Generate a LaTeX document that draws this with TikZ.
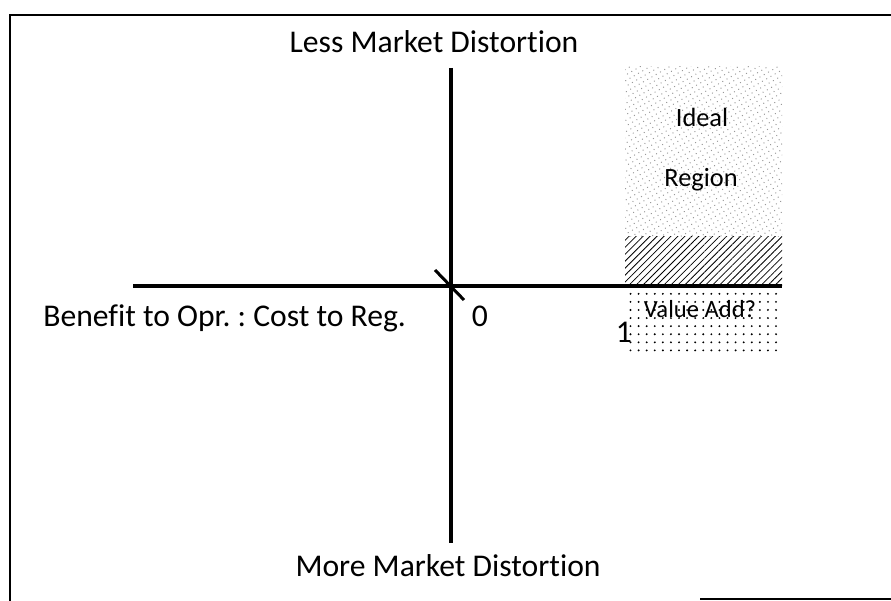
\documentclass[tikz,border=0pt]{standalone}
\usepackage{fontspec}
\setmainfont[Ligatures=NoCommon]{Carlito}
\usetikzlibrary{patterns.meta}
\frenchspacing

\begin{document}
\begin{tikzpicture}
			%%%%% START %%%%%
			\useasboundingbox (0, 0) rectangle (17.82, 12.02);
			
			% frame
			\draw[line width=0.35mm] (0.2, -0.1) -- (0.2, 11.72) -- (18, 11.72);
			\draw[line width=0.35mm] (14.0, 0.04) -- (18, 0.04);
			
			% ideal region, overlap band and value add
			\fill[pattern={Dots[distance=2.8pt, radius=0.4pt, angle=30]}, pattern color=black!40] (12.5, 7.28) rectangle (15.64, 10.68);
			\fill[pattern={Lines[angle=45, distance=2.8pt, line width=0.45pt]}] (12.5, 6.3) rectangle (15.64, 7.28);
			\fill[pattern={Dots[distance=4.6pt, radius=0.6pt]}] (12.5, 4.96) rectangle (15.64, 6.3);
			
			\node (ideal) at (14.04, 9.48) [anchor=base, font=\fontsize{15}{18}\selectfont] {Ideal};
			\node (region) at (14.02, 8.28) [anchor=base, font=\fontsize{15}{18}\selectfont] {Region};
			\node (valueadd) at (14.0, 5.66) [anchor=base, font=\fontsize{14}{17}\selectfont] {Value Add?};
			
			% axes
			\coordinate (ytop) at (9.02, 10.66);
			\coordinate (ybot) at (9.02, 1.16);
			\coordinate (xleft) at (2.66, 6.3);
			\coordinate (xright) at (15.64, 6.3);
			\draw[line width=0.8mm] (ytop) -- (ybot);
			\draw[line width=0.8mm] (xleft) -- (xright);
			
			\coordinate (tick1) at (8.7, 6.62);
			\coordinate (tick2) at (9.28, 6.02);
			\draw[line width=0.6mm] (tick1) -- (tick2);
			
			\node (less) at (8.68, 10.96) [anchor=base, font=\fontsize{18}{22}\selectfont] {Less Market Distortion};
			\node (more) at (8.96, 0.48) [anchor=base, font=\fontsize{18}{22}\selectfont] {More Market Distortion};
			\node (ratio) at (0.86, 5.48) [anchor=base west, inner sep=0pt, font=\fontsize{18}{22}\selectfont] {Benefit to Opr. : Cost to Reg.};
			\node (zero) at (9.6, 5.48) [anchor=base, font=\fontsize{18}{22}\selectfont] {0};
			\node (one) at (12.48, 5.16) [anchor=base, font=\fontsize{18}{22}\selectfont] {1};
			%%%%% END %%%%%
\end{tikzpicture}
\end{document}
